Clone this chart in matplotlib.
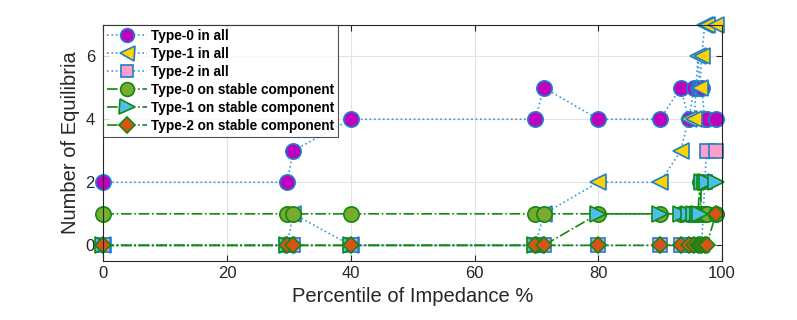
import matplotlib
matplotlib.use("Agg")
import matplotlib.pyplot as plt

# percentile thresholds (shared by every series)
pct = [0, 29.7, 30.7, 40, 69.8, 71.2, 80, 90, 93.3, 94.6, 95.5, 96.1, 96.4, 96.7, 97.2, 97.5, 99]

# number of equilibria of each type
type0_all = [2, 2, 3, 4, 4, 5, 4, 4, 5, 4, 5, 5, 5, 5, 4, 4, 4]
type1_all = [0, 0, 1, 0, 0, 1, 2, 2, 3, 4, 4, 6, 5, 6, 7, 7, 7]
type2_all = [0, 0, 0, 0, 0, 0, 0, 0, 0, 0, 0, 0, 0, 0, 2, 3, 3]
type0_stable = [1, 1, 1, 1, 1, 1, 1, 1, 1, 1, 1, 1, 2, 1, 1, 1, 1]
type1_stable = [0, 0, 0, 0, 0, 0, 1, 1, 1, 1, 1, 1, 1, 2, 2, 2, 2]
type2_stable = [0, 0, 0, 0, 0, 0, 0, 0, 0, 0, 0, 0, 0, 0, 0, 0, 1]

labels = ["Type-0 in all", "Type-1 in all", "Type-2 in all",
          "Type-0 on stable component", "Type-1 on stable component",
          "Type-2 on stable component"]

plt.rcParams['font.family'] = ['Liberation Sans', 'DejaVu Sans']

blue = '#1f7fc8'
dot_blue = '#3a9ad9'
green = '#118811'

fig = plt.figure(figsize=(7.97, 3.2), dpi=100)
ax = fig.add_axes([0.1296, 0.184, 0.7764, 0.739])

ms = 11
common = dict(lw=1.2, mew=1.2, clip_on=False)
ax.plot(pct, type0_all, ':', color=dot_blue, marker='o', ms=ms,
        mfc='#bf00bf', mec=blue, label=labels[0], **common)
ax.plot(pct, type1_all, ':', color=dot_blue, marker='<', ms=ms + 1,
        mfc='#ffd200', mec=blue, label=labels[1], **common)
ax.plot(pct, type2_all, ':', color=dot_blue, marker='s', ms=ms - 1.5,
        mfc='#ff9ec8', mec=blue, label=labels[2], **common)
ax.plot(pct, type0_stable, '-.', color=green, marker='o', ms=ms,
        mfc='#77ac30', mec=green, label=labels[3], **common)
ax.plot(pct, type1_stable, '-.', color=green, marker='>', ms=ms + 1,
        mfc='#4dbeee', mec=green, label=labels[4], **common)
ax.plot(pct, type2_stable, '-.', color=green, marker='D', ms=ms - 2.5,
        mfc='#d95319', mec=green, label=labels[5], **common)

ax.set_xlim(0, 100)
ax.set_ylim(-0.5, 7)
ax.set_xticks([0, 20, 40, 60, 80, 100])
ax.set_yticks([0, 2, 4, 6])
ax.tick_params(direction='in', top=True, right=True, labelsize=12,
               colors='#262626', length=4)
ax.tick_params(axis='y', pad=6)
ax.grid(True, color='#e3e3e3', lw=0.8)
ax.set_axisbelow(True)
for s in ax.spines.values():
    s.set_color('#262626')
    s.set_linewidth(0.8)

ax.set_xlabel("Percentile of Impedance %", fontsize=14.5, color='#262626')
ax.set_ylabel("Number of Equilibria", fontsize=14.5, color='#262626')

leg = ax.legend(loc='upper left', prop={'weight': 'bold', 'size': 9.8},
                frameon=True, fancybox=False, edgecolor='#262626',
                borderaxespad=0, handlelength=2.9, labelspacing=0.3,
                borderpad=0.3, handletextpad=0.3, markerscale=0.9)
leg.get_frame().set_linewidth(0.8)
leg.set_zorder(5)

fig.savefig("out.png", dpi=100)
